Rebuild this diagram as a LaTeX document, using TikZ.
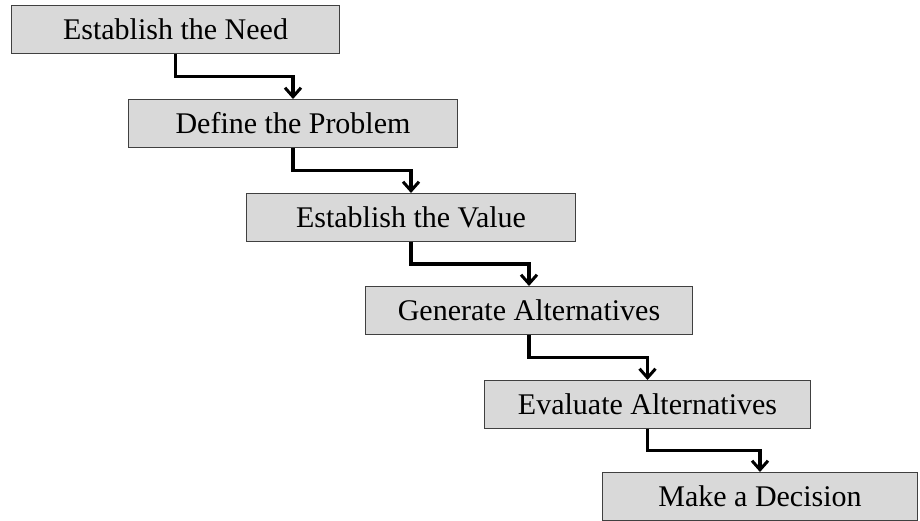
\documentclass[tikz,border=0pt]{standalone}
\usepackage{fontspec}
\setmainfont{Liberation Serif}
\usetikzlibrary{arrows.meta,calc}
\begin{document}
\begin{tikzpicture}[x=1pt,y=-1pt,
  stepbox/.style={draw=black!75, line width=1pt, fill=black!15,
    minimum width=#1, minimum height=48pt, inner sep=0pt,
    anchor=north west, font=\fontsize{30}{36}\selectfont},
  flow/.style={line width=3.4pt, line join=miter,
    -{Straight Barb[length=9pt,width=16pt,line width=3pt]}}]
\useasboundingbox[fill=white] (0,0) rectangle (920,521);
\node[stepbox=328pt] (s1) at (11,5)   {Establish the Need};
\node[stepbox=329pt] (s2) at (128,99) {Define the Problem};
\node[stepbox=329pt] (s3) at (246,193) {Establish the Value};
\node[stepbox=327pt] (s4) at (365,286) {Generate Alternatives};
\node[stepbox=326pt] (s5) at (484,380) {Evaluate Alternatives};
\node[stepbox=315pt] (s6) at (602,472) {Make a Decision};
\foreach \a/\b in {s1/s2,s2/s3,s3/s4,s4/s5,s5/s6}{
  \draw[flow] (\a.south) |- ($(\a.south)!0.5!(\b.north)$) -| (\b.north);
}
\end{tikzpicture}
\end{document}
